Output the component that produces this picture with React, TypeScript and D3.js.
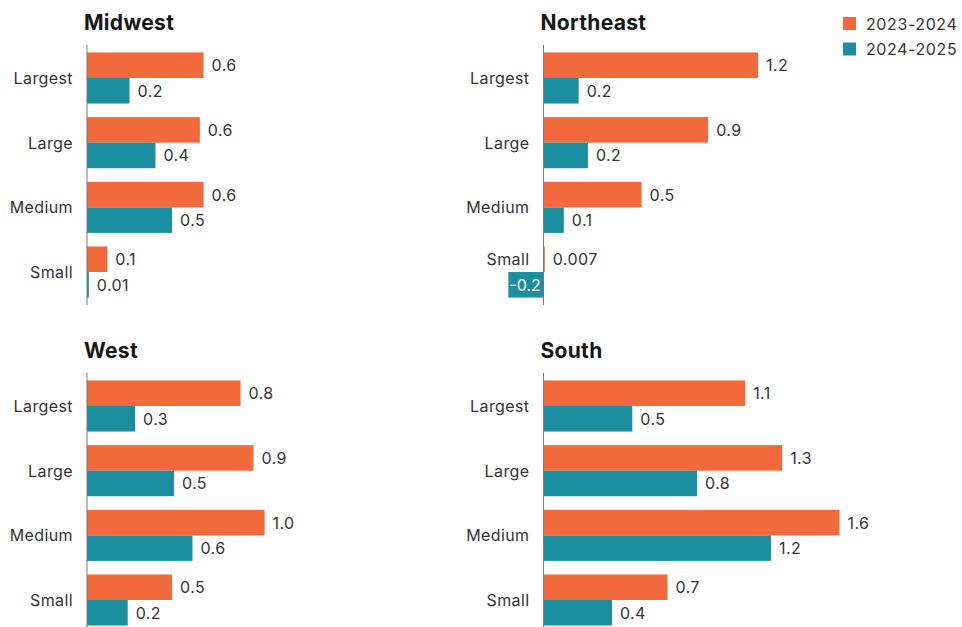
import React, { useEffect, useRef } from "react";
import * as d3 from "d3";

// size categories, top to bottom
const categories = ["Largest", "Large", "Medium", "Small"];
const seriesNames = ["2023-2024", "2024-2025"];
const seriesColors = ["#F26A3C", "#1A8FA0"];

// values, labels as printed on the chart
const midwest2324 = [0.63, 0.61, 0.63, 0.11];
const midwest2425 = [0.23, 0.37, 0.46, 0.01];
const midwestLabels2324 = ["0.6", "0.6", "0.6", "0.1"];
const midwestLabels2425 = ["0.2", "0.4", "0.5", "0.01"];

const northeast2324 = [1.16, 0.89, 0.53, 0.007];
const northeast2425 = [0.19, 0.24, 0.11, -0.19];
const northeastLabels2324 = ["1.2", "0.9", "0.5", "0.007"];
const northeastLabels2425 = ["0.2", "0.2", "0.1", "-0.2"];

const west2324 = [0.83, 0.9, 0.96, 0.46];
const west2425 = [0.26, 0.47, 0.57, 0.22];
const westLabels2324 = ["0.8", "0.9", "1.0", "0.5"];
const westLabels2425 = ["0.3", "0.5", "0.6", "0.2"];

const south2324 = [1.09, 1.29, 1.6, 0.67];
const south2425 = [0.48, 0.83, 1.23, 0.37];
const southLabels2324 = ["1.1", "1.3", "1.6", "0.7"];
const southLabels2425 = ["0.5", "0.8", "1.2", "0.4"];

const panels = [
  { title: "Midwest", a: midwest2324, b: midwest2425, la: midwestLabels2324, lb: midwestLabels2425, col: 0, row: 0 },
  { title: "Northeast", a: northeast2324, b: northeast2425, la: northeastLabels2324, lb: northeastLabels2425, col: 1, row: 0 },
  { title: "West", a: west2324, b: west2425, la: westLabels2324, lb: westLabels2425, col: 0, row: 1 },
  { title: "South", a: south2324, b: south2425, la: southLabels2324, lb: southLabels2425, col: 1, row: 1 },
];

const FONT = "Inter, 'Open Sans', sans-serif";
const FS = 16;
const LS = 0.4;

export default function App() {
  const ref = useRef<SVGSVGElement>(null);

  useEffect(() => {
    const svg = d3.select(ref.current);
    svg.selectAll("*").remove();
    const W = 962, H = 627;
    svg.attr("width", W).attr("height", H);

    const colX = [87, 543.5];
    const rowY = [45, 373];
    const unit = 185; // px per 1.0

    panels.forEach((p) => {
      const x0 = colX[p.col];
      const top = rowY[p.row];
      const g = svg.append("g");

      const x = d3.scaleLinear().domain([0, 1]).range([x0, x0 + unit]);
      const y = d3.scaleBand<string>().domain(categories).range([top, top + 260])
        .paddingInner(0.21).paddingOuter(0.115);
      const ySub = d3.scaleBand<number>().domain([0, 1]).range([0, y.bandwidth()]);

      g.append("text")
        .attr("x", x0 - 3)
        .attr("y", top - 15)
        .attr("font-family", FONT)
        .attr("font-weight", 700)
        .attr("font-size", 21)
        .attr("letter-spacing", 0.3)
        .attr("fill", "#161616")
        .text(p.title);

      const rows = categories.map((c, i) => ({
        cat: c,
        vals: [p.a[i], p.b[i]],
        labels: [p.la[i], p.lb[i]],
      }));

      rows.forEach((r) => {
        const gy = y(r.cat) as number;
        // when a bar goes left of the axis, the category label moves up to the first bar
        const hasNeg = r.vals.some((v) => v < 0);
        const ly = hasNeg ? gy + ySub.bandwidth() / 2 : gy + y.bandwidth() / 2;
        g.append("text")
          .attr("x", x0 - 14)
          .attr("y", ly)
          .attr("text-anchor", "end")
          .attr("dominant-baseline", "central")
          .attr("font-family", FONT)
          .attr("font-size", FS)
          .attr("letter-spacing", LS)
          .attr("fill", "#333")
          .text(r.cat);

        r.vals.forEach((v, s) => {
          const by = gy + (ySub(s) as number);
          g.append("rect")
            .attr("x", Math.min(x(0), x(v)))
            .attr("y", by)
            .attr("width", Math.max(Math.abs(x(v) - x(0)), 1))
            .attr("height", ySub.bandwidth())
            .attr("fill", seriesColors[s]);

          const neg = v < 0;
          g.append("text")
            .attr("x", neg ? x(v) + 1 : x(v) + 8)
            .attr("y", by + ySub.bandwidth() / 2)
            .attr("dominant-baseline", "central")
            .attr("font-family", FONT)
            .attr("font-size", FS)
            .attr("letter-spacing", neg ? 0 : LS)
            .attr("fill", neg ? "#ffffff" : "#333")
            .text(r.labels[s]);
        });
      });

      // axis line
      g.append("line")
        .attr("x1", x0).attr("x2", x0)
        .attr("y1", top).attr("y2", top + 260)
        .attr("stroke", "#777")
        .attr("stroke-width", 1);
    });

    // legend
    const legend = svg.append("g").attr("transform", "translate(843,17)");
    seriesNames.forEach((name, i) => {
      legend.append("rect")
        .attr("x", 0).attr("y", i * 25.5)
        .attr("width", 13).attr("height", 13)
        .attr("fill", seriesColors[i]);
      legend.append("text")
        .attr("x", 23).attr("y", i * 25.5 + 6.5)
        .attr("dominant-baseline", "central")
        .attr("font-family", FONT)
        .attr("font-size", FS)
        .attr("letter-spacing", 0.6)
        .attr("fill", "#333")
        .text(name);
    });
  }, []);

  return (
    <div style={{ position: "absolute", left: 0, top: 0, background: "#fff" }}>
      <svg ref={ref}></svg>
    </div>
  );
}
